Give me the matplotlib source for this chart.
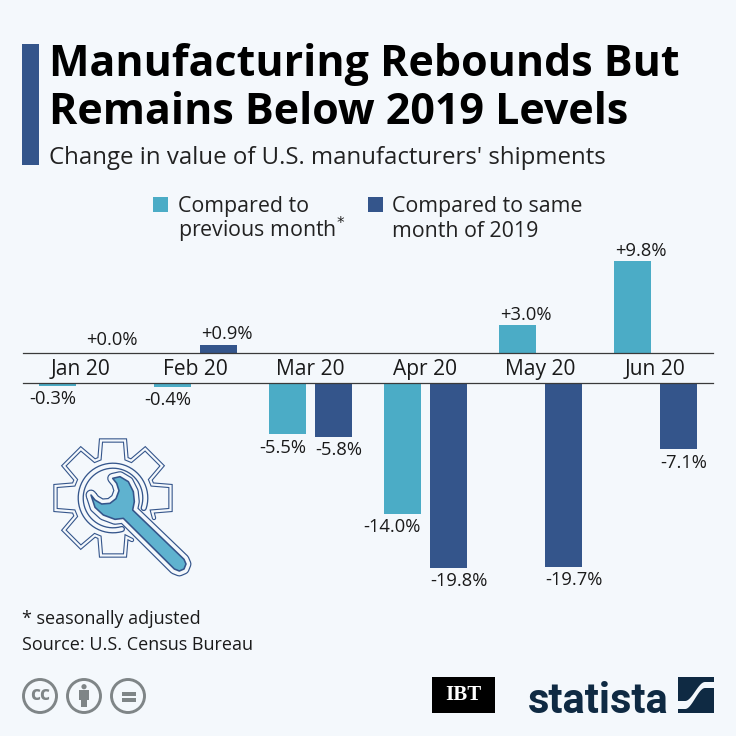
import numpy as np
import matplotlib
matplotlib.use("Agg")
import matplotlib.pyplot as plt
from matplotlib.patches import Rectangle, Polygon, Circle

months = ["Jan 20", "Feb 20", "Mar 20", "Apr 20", "May 20", "Jun 20"]
prev_month = [-0.3, -0.4, -5.5, -14.0, 3.0, 9.8]
vs_2019 = [0.0, 0.9, -5.8, -19.8, -19.7, -7.1]

BG = "#f4f8fc"
LIGHT = "#4bacc6"
DARK = "#34558b"
INK = "#1a1a1a"
NAVY = "#0f2a43"
GREY = "#7f8587"
plt.rcParams["font.family"] = ["Open Sans", "DejaVu Sans"]

W = 736
fig = plt.figure(figsize=(7.36, 7.36), dpi=100, facecolor=BG)


def axes_px(left, top, right, bottom):
    return fig.add_axes([left / W, 1 - bottom / W, (right - left) / W, (bottom - top) / W])


PX_PER_UNIT = 9.35
up = axes_px(23, 245, 713, 353)
low = axes_px(23, 383, 713, 600)
up.set_ylim(0, 108 / PX_PER_UNIT)
low.set_ylim(-217 / PX_PER_UNIT, 0)
WIDTH, OFF = 0.322, 0.2
for ax in (up, low):
    ax.set_xlim(-0.5, 5.5)
    ax.patch.set_alpha(0)
    for s in ax.spines.values():
        s.set_visible(False)
    ax.set_yticks([])
    ax.set_xticks([])

x = np.arange(len(months))
up.spines["bottom"].set_visible(True)
up.spines["bottom"].set_color("#3a3a3a")
up.spines["bottom"].set_linewidth(0.9)
low.spines["top"].set_visible(True)
low.spines["top"].set_color("#3a3a3a")
low.spines["top"].set_linewidth(0.9)
up.set_xticks(x, months, fontsize=15.1, color=INK)
up.tick_params(axis="x", length=0, pad=4)

LABEL = 13.2
for series, off, col in ((prev_month, -OFF, LIGHT), (vs_2019, OFF, DARK)):
    for xi, v in zip(x, series):
        pos = xi + off
        if v >= 0:
            up.bar(pos, v, WIDTH, color=col)
            up.annotate(f"+{v:.1f}%", (pos - WIDTH / 2, v), xytext=(0.5, 3 if v == 0 else 1),
                        textcoords="offset points", ha="left", va="bottom",
                        fontsize=LABEL, color=INK)
        else:
            low.bar(pos, v, WIDTH, color=col)
            if off < 0:
                low.annotate(f"{v:.1f}%", (pos + WIDTH / 2, v), xytext=(0, -3),
                             textcoords="offset points", ha="right", va="top",
                             fontsize=LABEL, color=INK)
            else:
                low.annotate(f"{v:.1f}%", (pos - WIDTH / 2, v), xytext=(0.5, -3),
                             textcoords="offset points", ha="left", va="top",
                             fontsize=LABEL, color=INK)

# pixel overlay
ov = fig.add_axes([0, 0, 1, 1], zorder=5)
ov.set_xlim(0, W)
ov.set_ylim(W, 0)
ov.axis("off")

ov.add_patch(Rectangle((22, 44), 17, 121, color=DARK, lw=0))
ov.text(49, 64, "Manufacturing Rebounds But", fontsize=31, fontweight="bold",
        color="black", va="center", ha="left")
ov.text(49, 113, "Remains Below 2019 Levels", fontsize=31, fontweight="bold",
        color="black", va="center", ha="left")
ov.text(49, 158.5, "Change in value of U.S. manufacturers' shipments", fontsize=17.3,
        color="#222222", va="center", ha="left")

# legend
LEG = 15.4
ov.add_patch(Rectangle((153, 197), 15, 15, color=LIGHT, lw=0))
ov.add_patch(Rectangle((368, 197), 15, 15, color=DARK, lw=0))
ov.text(178, 211.7, "Compared to", fontsize=LEG, color="#222222", va="baseline")
ov.text(177.5, 237.3, "previous month$^{*}$", fontsize=LEG, color="#222222", va="baseline",
        math_fontfamily="dejavusans")
ov.text(392, 211.7, "Compared to same", fontsize=LEG, color="#222222", va="baseline")
ov.text(392, 237.3, "month of 2019", fontsize=LEG, color="#222222", va="baseline")

# footer
ov.text(22, 619.5, "* seasonally adjusted", fontsize=13, color=INK, va="center")
ov.text(22, 645, "Source: U.S. Census Bureau", fontsize=13, color=INK, va="center")

# icon
CX, CY = 113, 498
PT = 0.72


def band(xs, ys, w_out, w_in, z=6):
    ov.plot(xs, ys, color=DARK, lw=w_out * PT, solid_capstyle="round",
            solid_joinstyle="miter", zorder=z)
    ov.plot(xs, ys, color=BG, lw=w_in * PT, solid_capstyle="round",
            solid_joinstyle="miter", zorder=z)


tip, val, hw_t, hw_b = 57.5, 41.5, 12.0, 13.5
pts = []
for a in np.deg2rad([45 + 45 * i for i in range(1, 8)]):
    d = np.array([np.cos(a), np.sin(a)])
    n = np.array([-d[1], d[0]])
    base_half = np.sqrt(val ** 2 - hw_b ** 2)
    pts += [d * base_half - n * hw_b, d * tip - n * hw_t, d * tip + n * hw_t, d * base_half + n * hw_b]
pts = np.array(pts)
start = np.array([[19, 42]])
end = np.array([[41, 20]])
pts = np.vstack([start, pts, end])
band(CX + pts[:, 0], CY + pts[:, 1], 4.4, 2.2)

t = np.deg2rad(np.linspace(18, -286, 160))
ring_r = 32.3
band(CX + ring_r * np.cos(t), CY + ring_r * np.sin(t), 6.3, 3.7)

# wrench outline in zoom-crop coordinates -> pixels
wz = np.array([(213, 225), (225, 240), (245, 252), (270, 250), (288, 236), (297, 212),
               (290, 190), (278, 175), (300, 170), (325, 185), (340, 215), (343, 245),
               (338, 270), (492, 418), (498, 432), (492, 447), (478, 453), (463, 447),
               (310, 295), (285, 298), (250, 285), (225, 262)], dtype=float)
wp = wz / 3 + np.array([20, 420])
ov.add_patch(Polygon(wp, closed=True, fc=DARK, ec=DARK, lw=11 * PT, joinstyle="round", zorder=7))
ov.add_patch(Polygon(wp, closed=True, fc=BG, ec=BG, lw=8.6 * PT, joinstyle="round", zorder=7))
ov.add_patch(Polygon(wp, closed=True, fc="#5fb2cf", ec=DARK, lw=1.6 * PT, joinstyle="round", zorder=7))

# licence icons
for cx in (40, 84, 128):
    ov.add_patch(Circle((cx, 696), 16.5, fc="none", ec=GREY, lw=2.1))
ov.text(40, 695.5, "cc", fontsize=14, fontweight="bold", color=GREY, ha="center", va="center")
ov.add_patch(Circle((84, 686.7), 2.6, color=GREY, lw=0))
ov.add_patch(Rectangle((79, 690), 10, 10, color=GREY, lw=0))
ov.add_patch(Rectangle((81, 700), 6, 7, color=GREY, lw=0))
ov.add_patch(Rectangle((121.7, 692), 14, 3.6, color=GREY, lw=0))
ov.add_patch(Rectangle((121.7, 698), 14, 3.6, color=GREY, lw=0))

# IBT logo
ov.add_patch(Rectangle((432, 677), 63, 36, color="black", lw=0))
ov.text(463.5, 695.5, "IBT", fontsize=15, fontweight="bold", family="Liberation Serif",
        color="white", ha="center", va="center")

# statista logo
ov.text(598.5, 713, "statista", fontsize=30, fontweight="bold", family="Roboto",
        color=NAVY, ha="center", va="baseline")
ov.add_patch(Rectangle((678, 677), 36, 36, color=NAVY, lw=0))
s = np.linspace(0, 1, 40)
ease = np.clip((s - 0.2) / 0.55, 0, 1)
ease = 3 * ease ** 2 - 2 * ease ** 3
xs = 678 + 36 * s
top_edge = 701 - 19 * ease
bot_edge = 709 - 21 * ease
ov.add_patch(Polygon(np.column_stack([np.r_[xs, xs[::-1]], np.r_[top_edge, bot_edge[::-1]]]),
                     closed=True, color=BG, lw=0))

fig.savefig("out.png", dpi=100, facecolor=BG)
